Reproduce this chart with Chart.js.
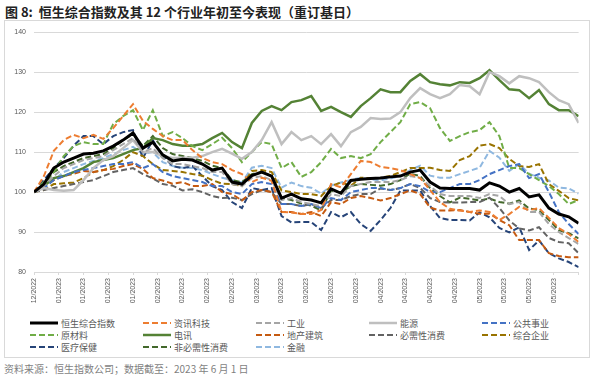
<!DOCTYPE html>
<html>
<head>
<meta charset="utf-8">
<script src="https://cdn.jsdelivr.net/npm/chart.js@4.4.0/dist/chart.umd.min.js"></script>
<style>
html,body{margin:0;padding:0;background:#fff;}
body{width:596px;height:375px;position:relative;overflow:hidden;font-family:"Noto Sans CJK SC","Liberation Sans",sans-serif;}
#title{position:absolute;left:5px;top:2px;font-size:13px;font-weight:bold;color:#222;white-space:nowrap;}
#frame{position:absolute;left:4px;top:20px;width:586px;height:338px;border:1px solid #d9d9d9;box-sizing:border-box;}
#wrap{position:absolute;left:4px;top:20px;width:586px;height:292px;}
#legend{position:absolute;left:30px;top:317px;display:grid;grid-template-columns:repeat(5,113px);font-size:9px;color:#595959;}
.item{display:flex;align-items:center;height:12px;white-space:nowrap;}
.item svg{margin-right:3px;}
#source{position:absolute;left:4px;top:361px;font-size:10px;color:#7f7f7f;white-space:nowrap;}
</style>
</head>
<body>
<div id="title">图 8:&nbsp; 恒生综合指数及其 12 个行业年初至今表现（重订基日）</div>
<div id="frame"></div>
<div id="wrap"><canvas id="lineChart" width="586" height="292"></canvas></div>
<div id="legend"></div>
<div id="source">资料来源：恒生指数公司；数据截至：2023 年 6 月 1 日</div>
<script>
// one value every 2 trading days, x tick label every 5 trading days
const step=2;
const xTickLabels=['12/2022','01/2023','01/2023','01/2023','01/2023','02/2023','02/2023','02/2023','02/2023',
  '03/2023','03/2023','03/2023','03/2023','03/2023','04/2023','04/2023','04/2023','04/2023',
  '05/2023','05/2023','05/2023','05/2023'];

const hsci=[100,102,106,107.5,108.5,109.5,109.7,110.3,111.5,113,114.8,111,112.5,109.3,107.8,108.2,108,107,105.5,106,102.5,102,104.1,105,104,98.5,99.5,98.3,98,97.3,100.8,99.7,102.9,103.2,103.4,103.5,103.8,104,105,105.5,102.5,101,100.9,100.9,100.9,100.5,102.3,101.5,100,100.9,98.8,99.3,96,94.5,93.8,92.2];
const infoTech=[100,104,110.3,113,114.3,113.5,114.3,113.3,116,119,122,117.8,115.8,114,113,113,110.5,108.5,107.5,107,105.5,104.5,102.5,103.6,102.8,95,94.9,94.5,94.5,95.5,102,101.2,104.5,107.8,107.5,106.3,106,105.5,104.5,103.5,100.5,97.5,95.8,95.4,95,95.4,95,93,94.5,96.3,95.5,96,93.5,91,89.5,87.5];
const industrial=[100,101.5,104,106,107,108,108.5,109,110.5,112,113.5,110,111,108.5,107,107,106.5,106,105,105,102,101.5,103.5,104,103,98,98.5,97.5,97,96.5,99.5,99,101.5,102,102.5,102.5,102.5,103,104,103.5,101.5,99.5,99,99,99,98.5,99.5,99,97,97.5,95,95,92,90,88.5,87];
const energy=[100,101,100.5,100.3,100.5,103,106,108,109,111,113,110,110,109,108.5,108.6,108.6,109,110,110.8,109.6,108.3,110,113,117.5,112,115,113,114,112,114.5,111.5,115,116.3,118.5,118.3,118.4,120,123.5,126,124.5,123.5,124.5,126.8,126.5,124.5,130,129,127.2,129,128.5,127.5,125,123,122,117.3];
const utilities=[100,101,103,104,105,105.5,106,106.5,107,107,107.5,106,107,105,104,103.5,103,102.5,101.5,101.5,100,99.5,102,102.5,102,97,97,96.5,97,96,98.5,98,100,100.5,101,101,100.5,101,102,101.5,100,100,101,102,102,103,104.5,105.5,106.5,107,103.5,104.5,100,95,92,89.5];
const materials=[100,102.5,105,109,111.5,112.5,112,112,117,119,120.5,115.5,120.5,114,115,113.5,111.5,110.5,112,113.6,111,107.5,110,112.5,112,106,107.5,103.8,105,107.5,110.8,108.5,109,108.5,109.5,112.5,115,117.5,122,122.5,121,116,112.8,114,115,115.5,117.5,114,106,106,104.5,103,101.5,99.5,97,98];
const telecom=[100,101.5,103.5,104,105,106,107.5,108,108.5,109.5,110.5,111,113.5,113,112,111.6,111.6,112,113.5,114.8,112.5,111,117.3,120.3,121.5,120.5,122.5,123,124,120.3,121.3,120,118.8,121.5,123.5,125.7,125,125,127.8,129.5,127.5,127,126.7,127.5,127.3,128.5,130.5,128,125.7,125.5,123.5,125.5,122,120.5,120.5,119];
const realEstate=[100,101.5,103,104,104.6,105.3,105,105.5,105.8,106.5,107,105.8,103.5,102.9,102.1,102.5,101.5,101.5,102,100,99.5,97.9,100,100.5,100,95,95,94.5,95,94,97.5,97,98.5,99,98.5,97.9,98.5,99.5,100.4,99.5,96.1,95.4,95.4,95.5,95,94.6,94.6,93,91.7,88,88,88,84.7,84,83.7,83.7];
const staples=[100,100.5,101,101.5,102,102.5,103,104,105,105.5,106,104.5,103.4,102,101.6,100.4,100.7,100,99,98.5,98.6,98,99.5,100.5,100,97,97,96.5,97,96,98,98,99,99.5,99.5,100.9,100.5,101,102,101,98.5,97.5,97.4,97.4,97.5,97.5,98.6,96,92.9,90.9,90.4,91.2,88.5,87.5,87.2,84.7];
const conglomerates=[100,100.5,102,102.2,102.4,103.5,105,105.5,106.5,108,110,109,107,105.5,105.3,105,104.5,104.1,103,102.1,102,101.5,105.3,105.5,105,100.4,100,99.5,99.5,99,101.5,102.4,101.6,103.6,103.5,103.6,104,105,106,106,106.1,105.5,105.3,108,109,111.6,112,111,108.3,106.5,106.3,107,102,100.3,98.5,97.9];
const healthcare=[100,103,106,108.5,111.6,114,114,112,114,115,115.5,108.5,113,109,106.5,106,106.5,104,101.5,100.5,97.5,96,101,100.5,101,94,92.4,92.5,92.5,90.5,95,93.7,95,92,90.3,93,96,100.4,100.4,100.4,96.5,93.5,93,93,92.9,94.9,93.7,91,89.9,91.2,85.5,87.9,84.7,83.4,82.5,81.2];
const consDisc=[100,102,105,106.5,107.5,108.5,109,109.5,111,113,114.5,111.5,114,111,109.5,109,108.5,107.8,106.6,106,103,102.5,104.5,105,104,98.6,98,97.1,96.6,95.4,100.4,99.9,101.5,102,101.8,101.6,102,103,104.6,104,101,99,97.4,98.6,98.3,97.9,98.4,97.5,97.1,97.9,95.9,95.5,93,90.5,89.7,88.4];
const financials=[100,101.5,103,105,106,107,107.8,108.5,109.5,110.5,111.3,109.6,110,107.5,106.5,106.1,106,105.5,104.5,103.6,103,102.4,106.1,106.6,106,101.1,102.4,101.5,101.1,99.6,101.6,102.4,103,103.6,103.2,102.9,103.4,104,105.5,106.6,104.1,103.6,103.6,104.5,105.3,106.1,110.3,108.6,105.3,107,104.6,103.6,102.9,101.1,100.9,99.6];

const dash=[6,3];
const series=[
  {label:'恒生综合指数',data:hsci,color:'#000000',width:3,dash:[]},
  {label:'资讯科技',data:infoTech,color:'#ED7D31',width:2,dash:dash},
  {label:'工业',data:industrial,color:'#A5A5A5',width:2,dash:dash},
  {label:'能源',data:energy,color:'#BFBFBF',width:2.5,dash:[]},
  {label:'公共事业',data:utilities,color:'#4472C4',width:2,dash:dash},
  {label:'原材料',data:materials,color:'#70AD47',width:2,dash:dash},
  {label:'电讯',data:telecom,color:'#548235',width:2.5,dash:[]},
  {label:'地产建筑',data:realEstate,color:'#C55A11',width:2,dash:dash},
  {label:'必需性消费',data:staples,color:'#636363',width:2,dash:dash},
  {label:'综合企业',data:conglomerates,color:'#997300',width:2,dash:dash},
  {label:'医疗保健',data:healthcare,color:'#264478',width:2,dash:dash},
  {label:'非必需性消费',data:consDisc,color:'#43682B',width:2,dash:dash},
  {label:'金融',data:financials,color:'#8FB8E0',width:2,dash:dash}
];

const ctx=document.getElementById('lineChart');
const chart=new Chart(ctx,{
  type:'line',
  data:{
    datasets:series.map(s=>({
      label:s.label,
      data:s.data.map((v,i)=>({x:i*step,y:v})),
      borderColor:s.color,
      backgroundColor:s.color,
      borderWidth:s.width,
      borderDash:s.dash,
      pointRadius:0,
      tension:0,
      fill:false
    }))
  },
  options:{
    responsive:false,
    animation:false,
    layout:{padding:{top:10,right:11,left:0,bottom:0}},
    plugins:{legend:{display:false},tooltip:{enabled:false}},
    scales:{
      x:{
        type:'linear',min:0,max:110,
        afterFit:s=>{s.height=40;},
        ticks:{stepSize:5,autoSkip:false,maxRotation:90,minRotation:90,padding:3,
          color:'#595959',font:{size:7,family:'Liberation Sans'},
          callback:v=>(v%5===0&&v/5<xTickLabels.length)?xTickLabels[v/5]:''},
        grid:{drawOnChartArea:false,tickLength:3,color:'#d9d9d9'},
        border:{color:'#d9d9d9'}
      },
      y:{
        min:80,max:140,
        afterFit:s=>{s.width=30;},
        ticks:{stepSize:10,padding:8,color:'#595959',font:{size:7,family:'Liberation Sans'}},
        grid:{color:'#d9d9d9',drawTicks:false},
        border:{display:false}
      }
    }
  }
});

// legend in 5 columns, like the source
const legend=document.getElementById('legend');
series.forEach(s=>{
  const item=document.createElement('div');
  item.className='item';
  const w=Math.min(s.width,3);
  item.innerHTML='<svg width="28" height="4"><line x1="0" y1="2" x2="28" y2="2" stroke="'+s.color+'" stroke-width="'+w+'"'+
    (s.dash.length?' stroke-dasharray="'+s.dash.join(',')+'"':'')+'/></svg><span>'+s.label+'</span>';
  legend.appendChild(item);
});
</script>
</body>
</html>
